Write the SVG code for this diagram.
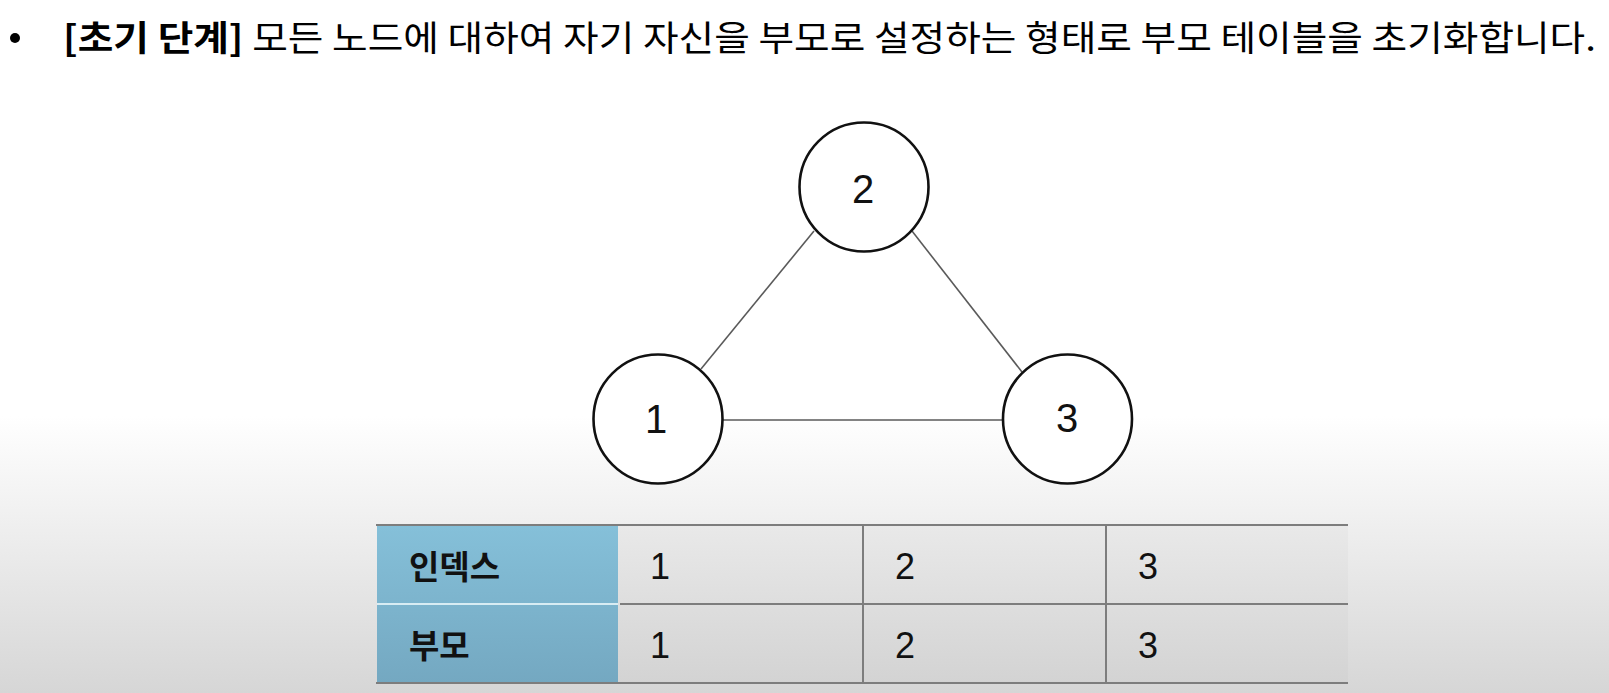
<svg xmlns="http://www.w3.org/2000/svg" width="1609" height="693" viewBox="0 0 1609 693">
<defs>
<linearGradient id="bg" x1="0" y1="0" x2="0" y2="1">
<stop offset="0" stop-color="#ffffff"/>
<stop offset="0.6" stop-color="#ffffff"/>
<stop offset="1" stop-color="#d6d6d6"/>
</linearGradient>
<linearGradient id="blue" x1="0" y1="0" x2="0" y2="1">
<stop offset="0" stop-color="#85c0d9"/>
<stop offset="1" stop-color="#74a8c1"/>
</linearGradient>
<linearGradient id="cell" x1="0" y1="0" x2="0" y2="1">
<stop offset="0" stop-color="#e9e9e9"/>
<stop offset="1" stop-color="#d3d3d3"/>
</linearGradient>
</defs>
<style>
.title{font-family:"Noto Sans CJK KR","Noto Sans",sans-serif;font-size:35px;fill:#000}
.node{fill:#fff;stroke:#111;stroke-width:2.6}
.nlabel{font-family:"Liberation Sans",Arial,sans-serif;font-size:40px;fill:#111;text-anchor:middle}
.edge{stroke:#5a5a5a;stroke-width:1.6;fill:none}
.hdr{font-family:"Noto Sans CJK KR",sans-serif;font-size:33px;font-weight:bold;fill:#111}
.num{font-family:"Liberation Sans",Arial,sans-serif;font-size:36px;fill:#111}
.grid{stroke:#7d7d7d;stroke-width:2;fill:none}
</style>
<rect x="0" y="0" width="1609" height="693" fill="url(#bg)"/>
<g id="title">
<circle cx="15" cy="38" r="5" fill="#000"/>
<text class="title" x="63" y="51" textLength="1533" lengthAdjust="spacingAndGlyphs"><tspan font-weight="bold">[초기 단계]</tspan> 모든 노드에 대하여 자기 자신을 부모로 설정하는 형태로 부모 테이블을 초기화합니다.</text>
</g>
<g id="connectors">
<line class="edge" x1="701" y1="369" x2="814" y2="231"/>
<line class="edge" x1="912" y1="231" x2="1022" y2="372"/>
<line class="edge" x1="723" y1="420" x2="1003" y2="420"/>
</g>
<g id="node1">
<circle class="node" cx="658" cy="419" r="64.5"/>
<text class="nlabel" x="656" y="433">1</text>
</g>
<g id="node2">
<circle class="node" cx="864" cy="187" r="64.5"/>
<text class="nlabel" x="863" y="203">2</text>
</g>
<g id="node3">
<circle class="node" cx="1067.5" cy="419" r="64.5"/>
<text class="nlabel" x="1067" y="432">3</text>
</g>
<g id="table">
<rect x="377" y="525" width="241" height="158" fill="url(#blue)"/>
<rect x="618" y="525" width="730" height="158" fill="url(#cell)"/>
<line x1="377" y1="604" x2="618" y2="604" stroke="#d8ecf3" stroke-width="2"/>
<line class="grid" x1="376" y1="525" x2="1348" y2="525"/>
<line class="grid" x1="376" y1="683" x2="1348" y2="683"/>
<line class="grid" x1="620" y1="604" x2="1348" y2="604"/>
<line class="grid" x1="863" y1="525" x2="863" y2="683"/>
<line class="grid" x1="1106" y1="525" x2="1106" y2="683"/>
<text class="hdr" x="409" y="579">인덱스</text>
<text class="hdr" x="409" y="658">부모</text>
<text class="num" x="650" y="579">1</text>
<text class="num" x="895" y="579">2</text>
<text class="num" x="1138" y="579">3</text>
<text class="num" x="650" y="658">1</text>
<text class="num" x="895" y="658">2</text>
<text class="num" x="1138" y="658">3</text>
</g>
</svg>
